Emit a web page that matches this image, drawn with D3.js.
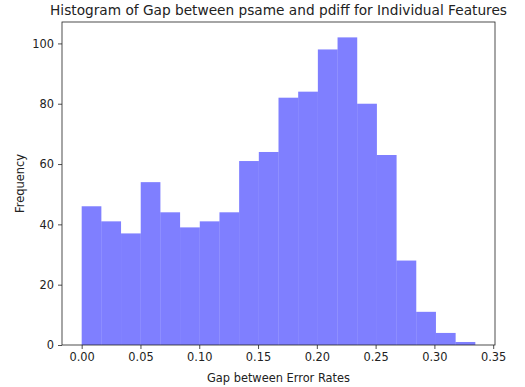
<!DOCTYPE html>
<html>
<head>
<meta charset="utf-8">
<script src="https://cdn.jsdelivr.net/npm/d3@7"></script>
<style>
  body { margin: 0; background: #fff; }
  text { font-family: "DejaVu Sans", sans-serif; fill: #222; }
</style>
</head>
<body>
<div id="chart"></div>
<script>
// histogram bins (20 bins from 0 to ~0.3348)
var binStart = 0.0;
var binEnd = 0.3348;
var counts = [46, 41, 37, 54, 44, 39, 41, 44, 61, 64, 82, 84, 98, 102, 80, 63, 28, 11, 4, 1];
var xTicks = [0.00, 0.05, 0.10, 0.15, 0.20, 0.25, 0.30, 0.35];
var yTicks = [0, 20, 40, 60, 80, 100];

var W = 525, H = 387;
var margin = {top: 22, right: 30, bottom: 42, left: 62},
    width = W - margin.left - margin.right,
    height = H - margin.top - margin.bottom;

var binW = (binEnd - binStart) / counts.length;
var bins = counts.map(function(c, i) {
  return {x0: binStart + i * binW, x1: binStart + (i + 1) * binW, n: c};
});

var pad = (binEnd - binStart) * 0.05;
var x = d3.scaleLinear().domain([binStart - pad, binEnd + pad]).range([0, width]);
var y = d3.scaleLinear().domain([0, d3.max(counts) * 1.05]).range([height, 0]);

var svg = d3.select("#chart").append("svg")
    .attr("width", W)
    .attr("height", H)
  .append("g")
    .attr("transform", "translate(" + margin.left + "," + margin.top + ")");

svg.selectAll("rect.bar").data(bins)
  .enter().append("rect")
    .attr("class", "bar")
    .attr("x", function(d) { return x(d.x0); })
    .attr("width", function(d) { return x(d.x1) - x(d.x0); })
    .attr("y", function(d) { return y(d.n); })
    .attr("height", function(d) { return height - y(d.n); })
    .style("fill", "#0000ff")
    .style("fill-opacity", 0.5)
    .style("stroke", "none");

// axes
var xAxis = svg.append("g")
    .attr("transform", "translate(0," + height + ")")
    .call(d3.axisBottom(x).tickValues(xTicks).tickFormat(d3.format(".2f")).tickSizeOuter(0).tickSize(4).tickPadding(4));
var yAxis = svg.append("g")
    .call(d3.axisLeft(y).tickValues(yTicks).tickFormat(d3.format("d")).tickSizeOuter(0).tickSize(4).tickPadding(4));

[xAxis, yAxis].forEach(function(a) {
  a.select(".domain").remove();
  a.selectAll("line").style("stroke", "#222").style("stroke-width", 0.8);
  a.selectAll("text").style("font-size", "11.4px").style("fill", "#222")
    .style("font-family", "'DejaVu Sans', sans-serif");
});

// frame
svg.append("rect")
    .attr("width", width)
    .attr("height", height)
    .style("fill", "none")
    .style("stroke", "#222")
    .style("stroke-width", 0.8);

// title and labels
svg.append("text")
    .attr("x", width / 2)
    .attr("y", -7)
    .attr("text-anchor", "middle")
    .style("font-size", "13.7px")
    .text("Histogram of Gap between psame and pdiff for Individual Features");

svg.append("text")
    .attr("x", width / 2)
    .attr("y", height + 37)
    .attr("text-anchor", "middle")
    .style("font-size", "11.4px")
    .text("Gap between Error Rates");

svg.append("text")
    .attr("transform", "translate(" + (-38) + "," + (height / 2) + ") rotate(-90)")
    .attr("text-anchor", "middle")
    .style("font-size", "11.4px")
    .text("Frequency");
</script>
</body>
</html>
